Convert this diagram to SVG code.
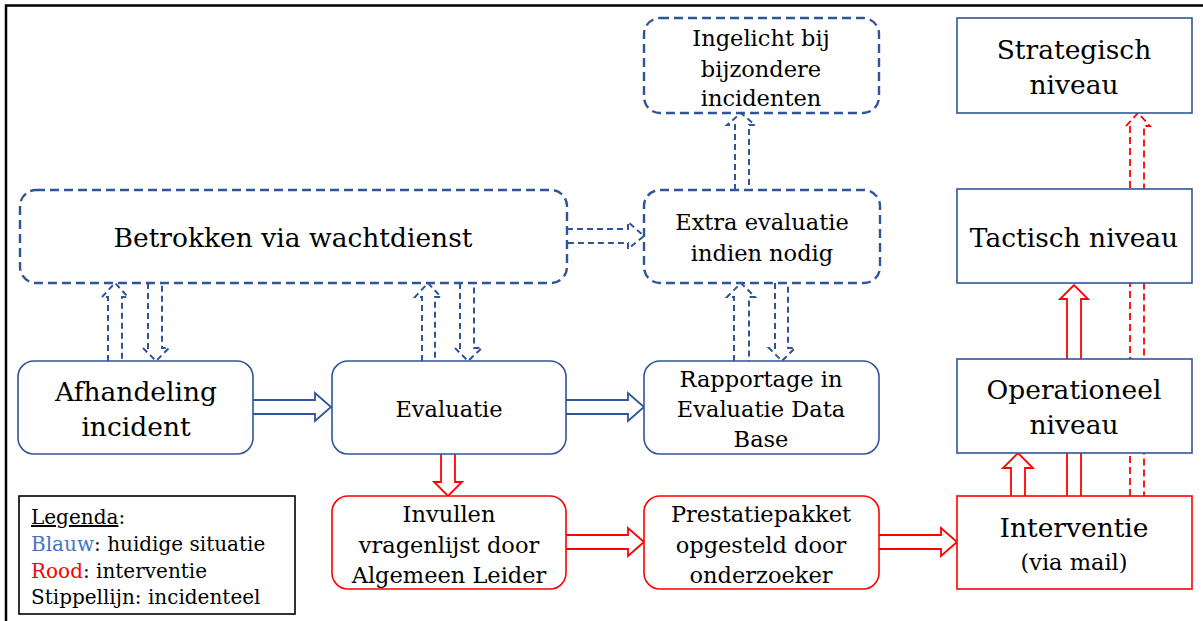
<svg xmlns="http://www.w3.org/2000/svg" width="1203" height="621" viewBox="0 0 1203 621">
<style>
text{font-family:"DejaVu Serif","Liberation Serif",serif;fill:#000;text-anchor:middle}
.b{fill:#fff;stroke:#2F5597;stroke-width:1.6}
.bd{fill:#fff;stroke:#2F5597;stroke-width:2.4;stroke-dasharray:9,5}
.r{fill:#fff;stroke:#FF0000;stroke-width:1.6}
.ab{fill:#fff;stroke:#2F5597;stroke-width:1.8}
.abd{fill:#fff;stroke:#2F5597;stroke-width:2;stroke-dasharray:6,4}
.ar{fill:#fff;stroke:#FF0000;stroke-width:1.8}
.ard{fill:none;stroke:#FF0000;stroke-width:1.8;stroke-dasharray:7,4}
.t24{font-size:26.5px}.t22{font-size:22.5px}.t20{font-size:22.5px}.t18{font-size:20px}
</style>
<rect x="0" y="0" width="1203" height="621" fill="#fff"/>
<path d="M6,622 V5.5 H1210" fill="none" stroke="#000" stroke-width="2.5"/>
<g id="connectors">
<path class="ab" d="M253,400 H315 V393 L331,407 L315,421 V414 H253"/>
<path class="ab" d="M566,400 H628 V393 L644,407 L628,421 V414 H566"/>
<path class="ar" d="M566,535 H628 V528 L644,542 L628,556 V549 H566"/>
<path class="ar" d="M879,535 H941 V528 L957,542 L941,556 V549 H879"/>
<path class="ar" d="M441,454 V482 H434 L448,496 L462,482 H455 V454"/>
<path class="ar" d="M1011,496 V468 H1003 L1018,453 L1033,468 H1025 V496"/>
<path class="ar" d="M1067,496 V299 H1060 L1074,285 L1088,299 H1081 V496"/>
<path class="ard" d="M1130,496 V126 H1126 L1138,113 L1150,126 H1144 V496"/>
<path class="abd" d="M108,361 V297 H102 L115,283 L128,297 H122 V361"/>
<path class="abd" d="M148,283 V348 H143 L156,361 L169,348 H162 V283"/>
<path class="abd" d="M422,361 V297 H415 L428,283 L441,297 H435 V361"/>
<path class="abd" d="M460,283 V348 H455 L468,361 L482,348 H474 V283"/>
<path class="abd" d="M734,361 V297 H727 L741,283 L755,297 H749 V361"/>
<path class="abd" d="M775,283 V348 H769 L782,361 L795,348 H788 V283"/>
<path class="abd" d="M735,190 V125 H727 L741,113 L755,125 H749 V190"/>
<path class="abd" d="M567,229 H628 V222 L644,236 L628,249 V243 H567"/>
</g>
<g id="betrokken">
<rect class="bd" x="20" y="190" width="547" height="93" rx="16"/>
<text class="t24" x="293" y="247">Betrokken via wachtdienst</text>
</g>
<g id="ingelicht">
<rect class="bd" x="644" y="18" width="235" height="95" rx="16"/>
<text class="t20" x="761" y="46">Ingelicht bij</text>
<text class="t20" x="761" y="77">bijzondere</text>
<text class="t20" x="761" y="106">incidenten</text>
</g>
<g id="extra">
<rect class="bd" x="644" y="190" width="236" height="93" rx="16"/>
<text class="t20" x="762" y="230">Extra evaluatie</text>
<text class="t20" x="762" y="261">indien nodig</text>
</g>
<g id="strategisch">
<rect class="b" x="957" y="18" width="235" height="95"/>
<text class="t24" x="1074" y="59">Strategisch</text>
<text class="t24" x="1074" y="94">niveau</text>
</g>
<g id="tactisch">
<rect class="b" x="957" y="189" width="235" height="94"/>
<text class="t24" x="1074" y="247">Tactisch niveau</text>
</g>
<g id="operationeel">
<rect class="b" x="957" y="359" width="235" height="94"/>
<text class="t24" x="1074" y="399">Operationeel</text>
<text class="t24" x="1074" y="434">niveau</text>
</g>
<g id="interventie">
<rect class="r" x="957" y="496" width="235" height="93"/>
<text class="t24" x="1074" y="537">Interventie</text>
<text class="t20" x="1074" y="570">(via mail)</text>
</g>
<g id="afhandeling">
<rect class="b" x="18" y="361" width="235" height="93" rx="16"/>
<text class="t24" x="136" y="401">Afhandeling</text>
<text class="t24" x="136" y="436">incident</text>
</g>
<g id="evaluatie">
<rect class="b" x="332" y="361" width="234" height="93" rx="16"/>
<text class="t20" x="449" y="417">Evaluatie</text>
</g>
<g id="rapportage">
<rect class="b" x="644" y="361" width="235" height="93" rx="16"/>
<text class="t20" x="761" y="387">Rapportage in</text>
<text class="t20" x="761" y="417">Evaluatie Data</text>
<text class="t20" x="761" y="447">Base</text>
</g>
<g id="invullen">
<rect class="r" x="332" y="496" width="234" height="93" rx="16"/>
<text class="t20" x="449" y="522">Invullen</text>
<text class="t20" x="449" y="553">vragenlijst door</text>
<text class="t20" x="449" y="583">Algemeen Leider</text>
</g>
<g id="prestatiepakket">
<rect class="r" x="644" y="496" width="235" height="93" rx="16"/>
<text class="t20" x="761" y="522">Prestatiepakket</text>
<text class="t20" x="761" y="553">opgesteld door</text>
<text class="t20" x="761" y="583">onderzoeker</text>
</g>
<g id="legenda">
<rect x="19" y="496" width="276" height="118" fill="#fff" stroke="#000" stroke-width="1.6"/>
<text class="t18" x="31" y="524" style="text-anchor:start"><tspan text-decoration="underline">Legenda</tspan>:</text>
<text class="t18" x="31" y="551" style="text-anchor:start"><tspan fill="#4472C4">Blauw</tspan>: huidige situatie</text>
<text class="t18" x="31" y="578" style="text-anchor:start"><tspan fill="#FF0000">Rood</tspan>: interventie</text>
<text class="t18" x="31" y="604" style="text-anchor:start">Stippellijn: incidenteel</text>
</g>
</svg>
